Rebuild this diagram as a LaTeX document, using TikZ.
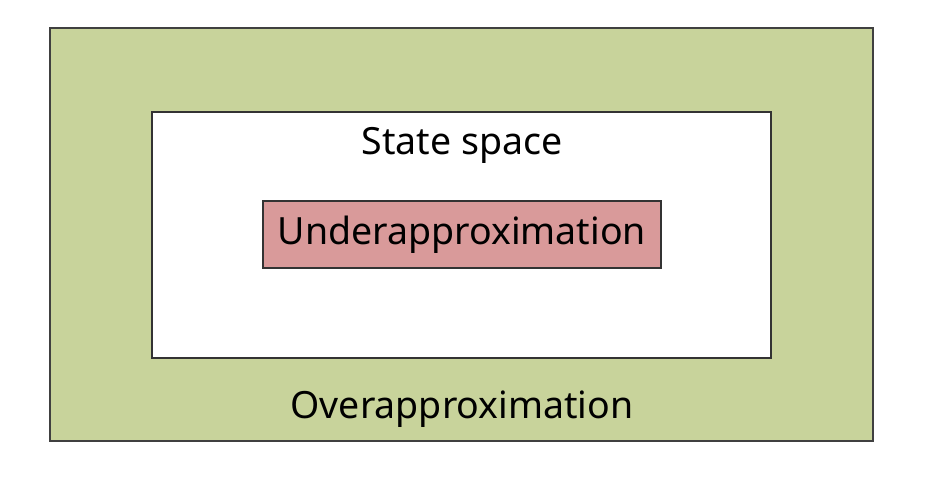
\documentclass[tikz,border=0pt]{standalone}
\usepackage{fontspec}
\setmainfont{Noto Sans}
\usepackage{tikz}
\usetikzlibrary{positioning}
\definecolor{overgreen}{HTML}{C8D39B}
\definecolor{underred}{HTML}{D99A9A}

\begin{document}
\begin{tikzpicture}[x=1pt, y=-1pt, line width=1.2pt,
	lbl/.style={font=\fontsize{37.5}{42}\selectfont, inner sep=0pt}]
	\useasboundingbox (0,0) rectangle (930,488);
	\draw[fill=overgreen, draw=black!75, line width=1.6pt] (50,28) rectangle (873,441);
	\draw[fill=white, draw=black!80] (152,112) rectangle (771,358);
	\node[draw=black!80, fill=underred, minimum width=398pt, minimum height=67pt, inner sep=0pt] (under) at (462,234.5) {};
	\node[lbl] (underlbl) at (under.center) {Underapproximation};
	\node[lbl] (state) at (462,145) {State space};
	\node[lbl] (over) at (462,409) {Overapproximation};
\end{tikzpicture}
\end{document}
